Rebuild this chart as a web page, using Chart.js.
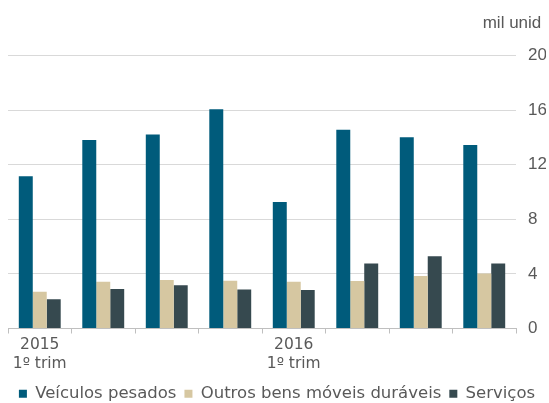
<!DOCTYPE html>
<html>
<head>
<meta charset="utf-8">
<script src="https://cdn.jsdelivr.net/npm/chart.js@4.4.1/dist/chart.umd.min.js"></script>
<style>
  html, body { margin: 0; padding: 0; background: #fff; }
  #wrap { width: 549px; height: 403px; }
</style>
</head>
<body>
<div id="wrap"><canvas id="chart"></canvas></div>
<script>
// quarters, 2015 Q1 .. 2016 Q4
const labels = [['2015', '1º trim'], '', '', '', ['2016', '1º trim'], '', '', ''];
const veiculos = [11.15, 13.8, 14.2, 16.05, 9.26, 14.56, 14.0, 13.43];
const outros = [2.7, 3.43, 3.55, 3.5, 3.43, 3.48, 3.85, 4.02];
const servicos = [2.15, 2.89, 3.16, 2.85, 2.82, 4.76, 5.3, 4.76];
const yTicks = [0, 4, 8, 12, 16, 20];

const grey = '#595959';

const ctx = document.getElementById('chart').getContext('2d');
new Chart(ctx, {
    type: 'bar',
    data: {
        labels: labels,
        datasets: [
            { label: 'Veículos pesados', data: veiculos, backgroundColor: '#005B7B' },
            { label: 'Outros bens móveis duráveis', data: outros, backgroundColor: '#D6C7A1' },
            { label: 'Serviços', data: servicos, backgroundColor: '#36494F' },
        ]
    },
    options: {
        responsive: true,
        maintainAspectRatio: false,
        animation: false,
        datasets: {
            bar: { categoryPercentage: 0.66, barPercentage: 1 }
        },
        // legend box is taller than its text, let it hang past the bottom edge
        layout: { padding: { left: 8, right: 3, top: 7, bottom: -9 } },
        plugins: {
            title: {
                display: true,
                text: 'mil unid ',
                align: 'end',
                color: grey,
                font: { family: '"Liberation Sans", Arial', size: 17, weight: 'normal' },
                padding: { top: 6, bottom: 22 }
            },
            legend: {
                position: 'bottom',
                labels: {
                    color: grey,
                    font: { family: '"DejaVu Sans"', size: 16.5 },
                    boxWidth: 8,
                    boxHeight: 8,
                    padding: 8
                }
            },
            tooltip: { enabled: false }
        },
        scales: {
            x: {
                afterFit: (axis) => { axis.height = 49; },
                grid: {
                    offset: true,
                    drawOnChartArea: false,
                    drawTicks: true,
                    tickLength: 5,
                    color: '#bfbfbf'
                },
                border: { display: true, color: '#bfbfbf' },
                ticks: {
                    color: grey,
                    font: { family: '"DejaVu Sans"', size: 15.5, lineHeight: 1.22 },
                    maxRotation: 0,
                    autoSkip: false,
                    padding: 2
                }
            },
            y: {
                position: 'right',
                min: 0,
                max: 20,
                afterBuildTicks: (axis) => { axis.ticks = yTicks.map(v => ({ value: v })); },
                afterFit: (axis) => { axis.width = 30; },
                grid: { color: '#d9d9d9', drawTicks: false },
                border: { display: false },
                ticks: {
                    color: grey,
                    font: { family: '"Liberation Sans", Arial', size: 17 },
                    padding: 12
                }
            }
        }
    }
});
</script>
</body>
</html>
